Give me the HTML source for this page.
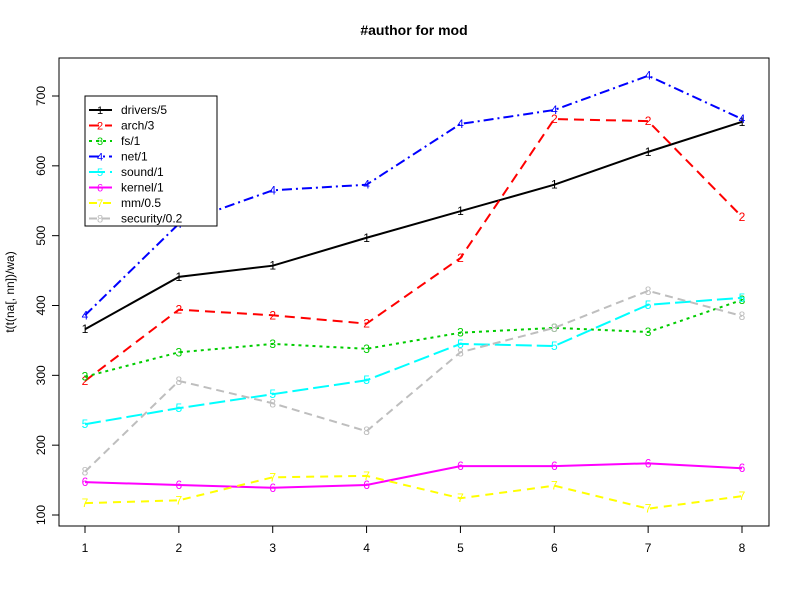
<!DOCTYPE html>
<html><head><meta charset="utf-8"><style>
body{margin:0;background:#fff;font-family:"Liberation Sans",sans-serif}
svg text{font-family:"Liberation Sans",sans-serif}
</style></head><body>
<svg id="chart" width="800" height="600">
<rect width="800" height="600" fill="#fff"/>
<text x="414" y="35" text-anchor="middle" font-weight="bold" font-size="14">#author for mod</text>
<rect x="59" y="58" width="710" height="468" fill="none" stroke="#000"/>
<text transform="translate(14,292) rotate(-90)" text-anchor="middle" font-size="12">t(t(na[, nn])/wa)</text>
<g id="axes"></g><g id="series"></g><g id="legend"></g>
</svg>
<script>
const categories=[1,2,3,4,5,6,7,8];
const yTicks=[100,200,300,400,500,600,700];
const seriesNames=["drivers/5","arch/3","fs/1","net/1","sound/1","kernel/1","mm/0.5","security/0.2"];
const drivers=[366,441,457,497,535,573,620,663];
const arch=[292,394,386,374,468,667,664,527];
const fs=[298,333,345,338,361,368,362,408];
const net=[386,517,565,573,660,680,729,667];
const sound=[230,253,273,293,345,342,401,411];
const kernel=[147,143,139,143,170,170,174,167];
const mm=[117,121,154,156,124,142,109,127];
const security=[162,292,260,220,333,368,421,385];
const seriesValues=[drivers,arch,fs,net,sound,kernel,mm,security];
const colors=["#000","#f00","#0c0","#00f","#0ff","#f0f","#ff0","#bebebe"];
const dashes=["","10,6","3,4","10,4,2,4","16,5","","8,6","8,5"];
const NS="http://www.w3.org/2000/svg";
const X=v=>85+(v-1)*(742-85)/7;
const Y=v=>515-(v-100)*(515-96)/600;
function mk(t,a,p){const e=document.createElementNS(NS,t);for(const k in a)e.setAttribute(k,a[k]);p.appendChild(e);return e;}
const ax=document.getElementById('axes');
mk('line',{x1:X(1),x2:X(8),y1:526,y2:526,stroke:'#000'},ax);
categories.forEach(c=>{
  const t=mk('line',{x1:X(c),x2:X(c),y1:526,y2:533,stroke:'#000'},ax);
  
  
  const l=mk('text',{x:X(c),y:552,'text-anchor':'middle','font-size':12},ax);l.textContent=c;
  
  
});
mk('line',{x1:59,x2:59,y1:Y(100),y2:Y(700),stroke:'#000'},ax);
yTicks.forEach(v=>{
  const t=mk('line',{x1:52,x2:59,y1:Y(v),y2:Y(v),stroke:'#000'},ax);
  
  
  const l=mk('text',{transform:`translate(45,${Y(v)}) rotate(-90)`,'text-anchor':'middle','font-size':12},ax);l.textContent=v;
  
  
});
const sg=document.getElementById('series');
seriesValues.forEach((vals,i)=>{
  const g=mk('g',{},sg);
  
  
  const pts=vals.map((v,j)=>X(categories[j])+','+Y(v)).join(' ');
  mk('polyline',{points:pts,fill:'none',stroke:colors[i],'stroke-width':2,'stroke-dasharray':dashes[i]},g);
  vals.forEach((v,j)=>{
    const t=mk('text',{x:X(categories[j]),y:Y(v)+4,'text-anchor':'middle','font-size':12,fill:colors[i]},g);
    t.textContent=i+1;
    
    
  });
});
const lg=document.getElementById('legend');


mk('rect',{x:85,y:96,width:132,height:130,fill:'#fff',stroke:'#000'},lg);
seriesNames.forEach((n,i)=>{
  const y=110+i*15.5;
  const e=mk('g',{},lg);
  
  
  mk('line',{x1:89,x2:112,y1:y,y2:y,stroke:colors[i],'stroke-width':2,'stroke-dasharray':dashes[i]},e);
  const d=mk('text',{x:100,y:y+4,'text-anchor':'middle','font-size':11,fill:colors[i]},e);d.textContent=i+1;
  const t=mk('text',{x:121,y:y+4,'font-size':12},e);t.textContent=n;
});
</script>
</body></html>
